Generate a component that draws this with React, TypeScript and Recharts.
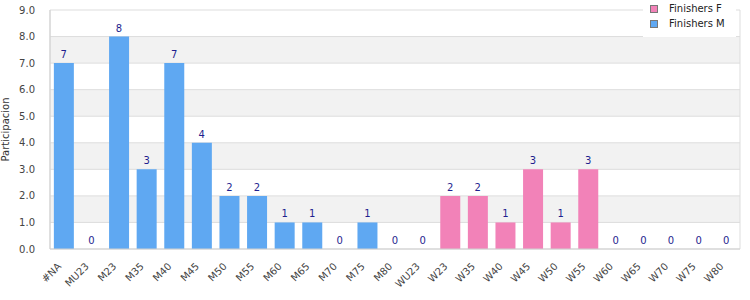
import React from 'react';
import { ComposedChart, Bar, Line, XAxis, YAxis, CartesianGrid, LabelList, Legend } from 'recharts';

const categories = ['#NA','MU23','M23','M35','M40','M45','M50','M55','M60','M65','M70','M75','M80','WU23','W23','W35','W40','W45','W50','W55','W60','W65','W70','W75','W80'];
const finishersM = [7,0,8,3,7,4,2,2,1,1,0,1,0,0,0,0,0,0,0,0,0,0,0,0,0];
const finishersF = [0,0,0,0,0,0,0,0,0,0,0,0,0,0,2,2,1,3,1,3,0,0,0,0,0];
const yTicks = [0,1,2,3,4,5,6,7,8,9];

const BLUE = '#5fa8f2';
const PINK = '#f282b8';
const FONT = 'DejaVu Sans, sans-serif';

const data = categories.map((c, i) => ({
  name: c,
  M: finishersM[i],
  F: finishersF[i],
  total: finishersM[i] + finishersF[i],
}));

const XTick = (props: any) => {
  const { x, y, payload } = props;
  return (
    <g transform={`translate(${x - 2},${y + 10})`}>
      <text transform="rotate(-45)" textAnchor="end" fontSize={10} fill="#444" fontFamily={FONT}>
        {payload.value}
      </text>
    </g>
  );
};

const YLabel = (props: any) => {
  const vb = props.viewBox || { x: 0, y: 10, width: 50, height: 239 };
  const cx = vb.x + 9;
  const cy = vb.y + vb.height / 2;
  return (
    <text transform={`translate(${cx},${cy}) rotate(-90)`} textAnchor="middle" fontSize={10} fill="#333" fontFamily={FONT}>
      Participacion
    </text>
  );
};

const LegendBox = () => (
  <div style={{ background: '#fff', width: 93, height: 37, boxSizing: 'border-box', padding: '1px 0 0 7px', fontFamily: FONT, fontSize: 10, color: '#222', lineHeight: '15px', textAlign: 'left' }}>
    {[['Finishers F', PINK], ['Finishers M', BLUE]].map(([label, color]) => (
      <div key={label} style={{ display: 'flex', alignItems: 'center' }}>
        <span style={{ display: 'inline-block', width: 6, height: 6, background: color, border: '1px solid #777', marginRight: 11 }} />
        {label}
      </div>
    ))}
  </div>
);

export default function App() {
  return (
    <div style={{ position: 'absolute', left: 0, top: 0, width: 750, height: 300, background: '#fff' }}>
      <ComposedChart width={750} height={300} data={data} margin={{ top: 10, right: 10, bottom: 0, left: 0 }} barCategoryGap="14%">
        <CartesianGrid
          stroke="#dddddd"
          horizontalFill={['#ffffff', '#f2f2f2']}
          fillOpacity={1}
          verticalCoordinatesGenerator={({ offset }: any) => [offset.left, offset.left + offset.width]}
        />
        <XAxis dataKey="name" interval={0} tick={<XTick />} tickLine={false} axisLine={{ stroke: '#d0d0d0' }} height={51} />
        <YAxis
          domain={[0, 9]}
          ticks={yTicks}
          tickFormatter={(v: number) => v.toFixed(1)}
          tick={{ fontSize: 10, fill: '#444', fontFamily: FONT }}
          tickLine={false}
          axisLine={{ stroke: '#d0d0d0' }}
          width={50}
          tickMargin={9}
          label={<YLabel />}
        />
        <Bar dataKey="M" stackId="a" fill={BLUE} isAnimationActive={false} legendType="none" />
        <Bar dataKey="F" stackId="a" fill={PINK} isAnimationActive={false} legendType="none" />
        <Line dataKey="total" stroke="none" dot={false} activeDot={false} isAnimationActive={false} legendType="none">
          <LabelList dataKey="total" position="top" offset={5} style={{ fontSize: 10, fill: '#1f1f8f', fontFamily: FONT }} />
        </Line>
        <Legend verticalAlign="middle" align="center" layout="horizontal" content={<LegendBox />} wrapperStyle={{ top: 0, left: 643, width: 93, height: 37 }} />
      </ComposedChart>
    </div>
  );
}
